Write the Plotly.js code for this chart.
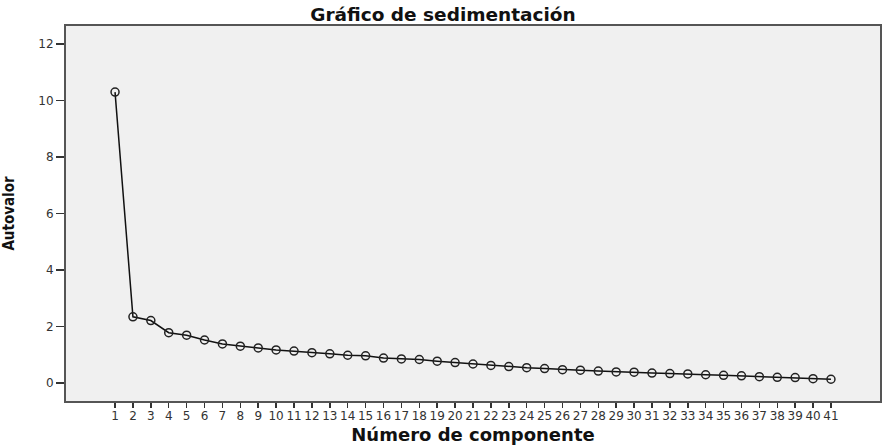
<!DOCTYPE html>
<html>
<head>
<meta charset="utf-8">
<script src="https://cdn.plot.ly/plotly-3.0.1.min.js"></script>
<style>html,body{margin:0;padding:0;background:#fff;}#chart{width:886px;height:448px;}</style>
</head>
<body>
<div id="chart"></div>
<script>
const components = [1,2,3,4,5,6,7,8,9,10,11,12,13,14,15,16,17,18,19,20,21,22,23,24,25,26,27,28,29,30,31,32,33,34,35,36,37,38,39,40,41];
const eigenvalues = [10.30,2.34,2.21,1.78,1.69,1.52,1.38,1.30,1.24,1.17,1.13,1.07,1.03,0.98,0.96,0.88,0.85,0.83,0.77,0.72,0.67,0.62,0.58,0.54,0.51,0.47,0.45,0.42,0.39,0.38,0.35,0.33,0.32,0.29,0.27,0.25,0.22,0.20,0.19,0.15,0.13];
const yTicks = [0,2,4,6,8,10,12];

const wideFont = 'DejaVu Sans, Verdana, sans-serif';

const trace = {
  x: components,
  y: eigenvalues,
  type: 'scatter',
  mode: 'lines+markers',
  line: {color: '#111', width: 1.5},
  marker: {symbol: 'circle-open', size: 8, color: '#222', line: {width: 1.5, color: '#222'}},
  hoverinfo: 'x+y'
};

const layout = {
  width: 886, height: 448,
  margin: {l: 66, r: 6, t: 26, b: 47},
  paper_bgcolor: '#ffffff',
  plot_bgcolor: '#f0f0f0',
  showlegend: false,
  title: {
    text: '<b>Gráfico de sedimentación</b>',
    font: {family: wideFont, size: 18.5, color: '#111'},
    x: 0.5, xanchor: 'center', y: 0.968, yanchor: 'middle'
  },
  xaxis: {
    range: [-1.74, 43.74],
    tickmode: 'array',
    tickvals: components,
    ticktext: components.map(String),
    ticks: 'outside', ticklen: 5, tickwidth: 1.5, tickcolor: '#333',
    tickfont: {family: wideFont, size: 12, color: '#333'},
    ticklabelstandoff: -2,
    showgrid: false, zeroline: false,
    showline: true, linecolor: '#555', linewidth: 2, mirror: true,
    title: {
      text: '<b>Número de componente</b>',
      font: {family: wideFont, size: 18, color: '#111'},
      standoff: 6
    }
  },
  yaxis: {
    range: [-0.64, 12.64],
    tickmode: 'array',
    tickvals: yTicks,
    ticktext: yTicks.map(String),
    ticks: 'outside', ticklen: 8, tickwidth: 1.5, tickcolor: '#333',
    tickfont: {family: wideFont, size: 12, color: '#333'},
    showgrid: false, zeroline: false,
    showline: true, linecolor: '#555', linewidth: 2, mirror: true,
    title: {
      text: '<b>Autovalor</b>',
      font: {family: 'Liberation Sans Narrow, DejaVu Sans Condensed, Arial Narrow, sans-serif', size: 15, color: '#111'},
      standoff: 20
    }
  }
};

Plotly.newPlot('chart', [trace], layout, {displayModeBar: false, staticPlot: true});
</script>
</body>
</html>
